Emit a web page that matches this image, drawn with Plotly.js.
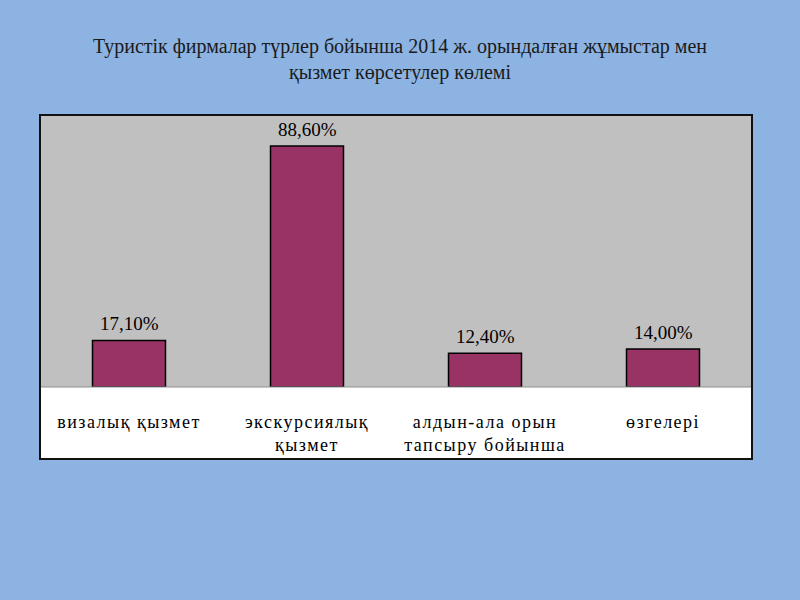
<!DOCTYPE html>
<html>
<head>
<meta charset="utf-8">
<script src="https://cdn.plot.ly/plotly-3.0.1.min.js"></script>
<style>
  html, body { margin: 0; padding: 0; background: #8DB3E2; }
  #chart { width: 800px; height: 600px; }
  .xtick text { letter-spacing: 1.5px; }
</style>
</head>
<body>
<div id="chart"></div>
<script>
const categories = [
  'визалық қызмет',
  'экскурсиялық<br>қызмет',
  'алдын-ала орын<br>тапсыру бойынша',
  'өзгелері'
];
const values = [17.1, 88.6, 12.4, 14.0];
const valueLabels = values.map(v => v.toFixed(2).replace('.', ',') + '%');
const chartTitle = 'Туристік фирмалар түрлер бойынша 2014 ж. орындалған жұмыстар мен<br>қызмет көрсетулер көлемі';

const serif = 'Liberation Serif, Times New Roman, serif';

const trace = {
  type: 'bar',
  x: categories,
  y: values,
  cliponaxis: false,
  width: 0.41,
  marker: { color: '#993366', line: { color: '#000000', width: 1.5 } },
  hoverinfo: 'skip'
};

const valueAnnotations = categories.map((c, i) => ({
  x: c,
  y: values[i],
  xref: 'x',
  yref: 'y',
  text: valueLabels[i],
  showarrow: false,
  yanchor: 'bottom',
  yshift: 4,
  font: { family: serif, size: 19, color: '#000000' }
}));

const layout = {
  width: 800,
  height: 600,
  paper_bgcolor: '#8DB3E2',
  plot_bgcolor: '#C0C0C0',
  margin: { l: 40, r: 48, t: 115, b: 213, pad: 0 },
  showlegend: false,
  title: {
    text: chartTitle,
    font: { family: serif, size: 20, color: '#1a1a1a' },
    xref: 'container', x: 0.5, xanchor: 'center',
    yref: 'container', y: 1 - 53 / 600, yanchor: 'top'
  },
  xaxis: {
    type: 'category',
    showgrid: false,
    zeroline: false,
    showline: false,
    ticks: '',
    ticklabelstandoff: 22,
    tickfont: { family: serif, size: 18, color: '#000000' },
    fixedrange: true
  },
  yaxis: {
    range: [0, 100],
    showgrid: false,
    zeroline: false,
    showline: false,
    showticklabels: false,
    ticks: '',
    fixedrange: true
  },
  annotations: valueAnnotations,
  shapes: [
    {
      type: 'rect', xref: 'paper', yref: 'paper', layer: 'below',
      x0: 0, x1: 1, y0: -72 / 272, y1: 0,
      fillcolor: '#FFFFFF', line: { width: 0 }
    },
    {
      type: 'line', xref: 'paper', yref: 'paper', layer: 'above',
      x0: 0, x1: 1, y0: 0, y1: 0,
      line: { color: '#909090', width: 1 }
    },
    {
      type: 'rect', xref: 'paper', yref: 'paper', layer: 'above',
      x0: 0, x1: 1, y0: -72 / 272, y1: 1,
      fillcolor: 'rgba(0,0,0,0)', line: { color: '#111111', width: 2 }
    }
  ]
};

Plotly.newPlot('chart', [trace], layout, { displayModeBar: false, staticPlot: true });
</script>
</body>
</html>
